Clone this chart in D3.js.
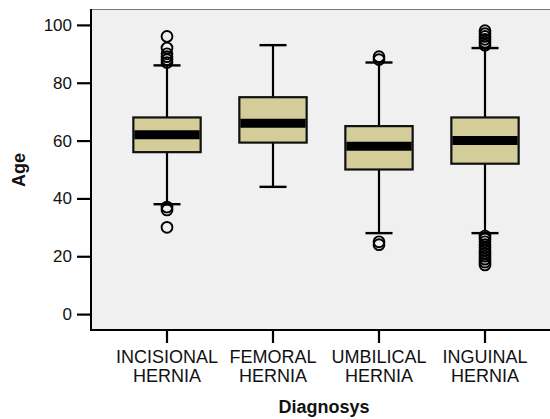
<!DOCTYPE html>
<html>
<head>
<meta charset="utf-8">
<script src="https://cdn.jsdelivr.net/npm/d3@7"></script>
<style>
  html, body { margin: 0; padding: 0; background: #ffffff; }
  svg { display: block; font-family: "Liberation Sans", Arial, sans-serif; }
</style>
</head>
<body>
<svg id="chart" width="550" height="419"></svg>
<script>
// Age distribution by hernia diagnosis
const categories = ["INCISIONAL HERNIA", "FEMORAL HERNIA", "UMBILICAL HERNIA", "INGUINAL HERNIA"];
const q1 = [56, 59.3, 50, 52];
const medians = [62, 66, 58, 60];
const q3 = [68, 75, 65, 68];
const whiskerLow = [38, 44, 28, 28];
const whiskerHigh = [86, 93, 87, 92];
const outliers = [
  [87, 88, 89, 90, 92, 96, 37, 36, 30],
  [],
  [88, 89, 25, 24],
  [93, 94, 95, 96, 97, 98, 27, 26, 25, 24, 23, 22, 21, 20, 19, 18, 17]
];
const yTicks = [0, 20, 40, 60, 80, 100];

const svg = d3.select("#chart");
const frame = { left: 91, right: 550, top: 9, bottom: 330 };

const x = d3.scaleBand().domain(categories).range([114, 538]).padding(0);
const y = d3.scaleLinear().domain([-5.5, 105.5]).range([frame.bottom, frame.top]);

// plot background
svg.append("rect")
  .attr("x", frame.left).attr("y", frame.top)
  .attr("width", frame.right - frame.left).attr("height", frame.bottom - frame.top)
  .attr("fill", "#f0f0f0");
svg.append("line")
  .attr("x1", frame.left).attr("x2", frame.right)
  .attr("y1", frame.top + 0.5).attr("y2", frame.top + 0.5)
  .attr("stroke", "#7a7a7a").attr("stroke-width", 1);

// y axis
const yAxis = svg.append("g")
  .attr("transform", `translate(${frame.left},0)`)
  .call(d3.axisLeft(y).tickValues(yTicks).tickSize(14).tickPadding(5).tickFormat(d3.format("d")));
yAxis.select(".domain").remove();
yAxis.selectAll(".tick line").attr("stroke", "#000").attr("stroke-width", 2.2);
yAxis.selectAll(".tick text").attr("font-size", 17).attr("fill", "#111")
  .attr("font-family", "Liberation Sans, Arial, sans-serif");

// x axis
const xAxis = svg.append("g")
  .attr("transform", `translate(0,${frame.bottom})`)
  .call(d3.axisBottom(x).tickSize(13).tickFormat(""));
xAxis.select(".domain").remove();
xAxis.selectAll(".tick line").attr("stroke", "#000").attr("stroke-width", 2.2);
xAxis.selectAll(".tick").each(function (d) {
  const words = d.split(" ");
  const t = d3.select(this).append("text")
    .attr("text-anchor", "middle")
    .attr("font-size", 18).attr("fill", "#111")
    .attr("font-family", "Liberation Sans, Arial, sans-serif");
  t.append("tspan").attr("x", 0).attr("y", 33).text(words[0]);
  t.append("tspan").attr("x", 0).attr("y", 52).text(words[1]);
});

// frame lines
svg.append("line")
  .attr("x1", frame.left).attr("x2", frame.left)
  .attr("y1", frame.top).attr("y2", frame.bottom + 1)
  .attr("stroke", "#000").attr("stroke-width", 2);
svg.append("line")
  .attr("x1", frame.left - 1).attr("x2", frame.right)
  .attr("y1", frame.bottom).attr("y2", frame.bottom)
  .attr("stroke", "#000").attr("stroke-width", 2);

// axis titles
svg.append("text")
  .attr("x", 324).attr("y", 413)
  .attr("text-anchor", "middle")
  .attr("font-size", 18).attr("font-weight", "bold").attr("fill", "#111")
  .text("Diagnosys");
svg.append("text")
  .attr("transform", "translate(25,170) rotate(-90)")
  .attr("text-anchor", "middle")
  .attr("font-size", 18).attr("font-weight", "bold").attr("fill", "#111")
  .text("Age");

// boxes
const boxW = x.bandwidth() * 0.635;
const capW = x.bandwidth() * 0.255;
const groups = svg.append("g").selectAll("g")
  .data(categories.map((c, i) => ({
    c, q1: q1[i], med: medians[i], q3: q3[i], lo: whiskerLow[i], hi: whiskerHigh[i], out: outliers[i]
  })))
  .join("g")
  .attr("transform", d => `translate(${x(d.c) + x.bandwidth() / 2},0)`);

// whiskers
groups.append("line")
  .attr("x1", 0).attr("x2", 0)
  .attr("y1", d => y(d.hi)).attr("y2", d => y(d.lo))
  .attr("stroke", "#000").attr("stroke-width", 2.2);
groups.selectAll("line.cap")
  .data(d => [d.lo, d.hi])
  .join("line").attr("class", "cap")
  .attr("x1", -capW / 2).attr("x2", capW / 2)
  .attr("y1", v => y(v)).attr("y2", v => y(v))
  .attr("stroke", "#000").attr("stroke-width", 2.4);

// interquartile box
groups.append("rect")
  .attr("x", -boxW / 2).attr("width", boxW)
  .attr("y", d => y(d.q3)).attr("height", d => y(d.q1) - y(d.q3))
  .attr("fill", "#d3ce99").attr("stroke", "#111").attr("stroke-width", 2.2);

// median
groups.append("line")
  .attr("x1", -boxW / 2 + 1).attr("x2", boxW / 2 - 1)
  .attr("y1", d => y(d.med)).attr("y2", d => y(d.med))
  .attr("stroke", "#000").attr("stroke-width", 9);

// outliers
groups.selectAll("circle")
  .data(d => d.out)
  .join("circle")
  .attr("cx", 0).attr("cy", v => y(v)).attr("r", 5.4)
  .attr("fill", "none").attr("stroke", "#000").attr("stroke-width", 1.9);
</script>
</body>
</html>
